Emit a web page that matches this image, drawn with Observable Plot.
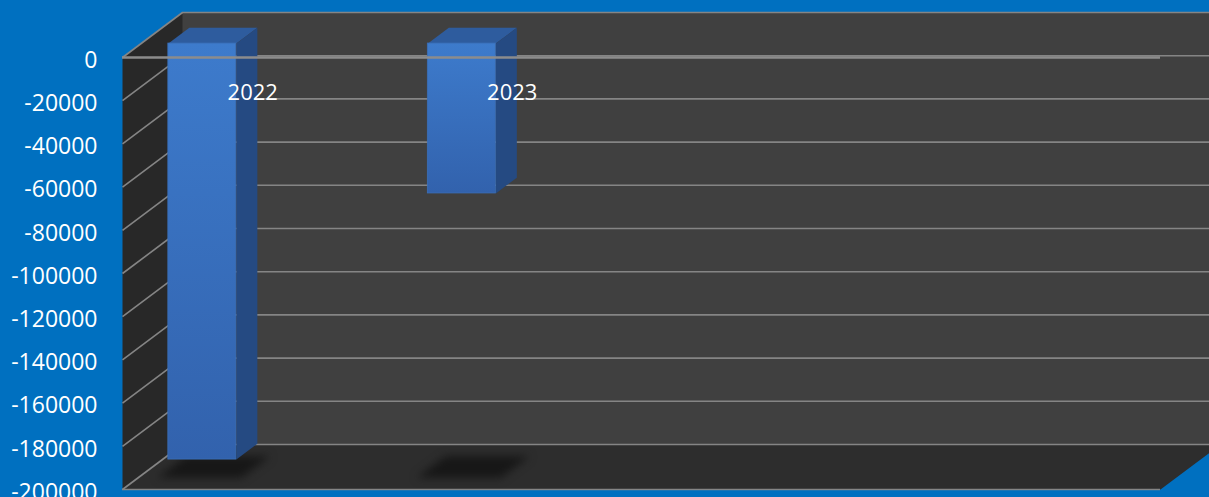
<!DOCTYPE html>
<html><head><meta charset="utf-8">
<script src="https://cdn.jsdelivr.net/npm/d3@7"></script>
<script src="https://cdn.jsdelivr.net/npm/@observablehq/plot@0.6"></script>
<style>
html,body{margin:0;padding:0;background:#0070C0;overflow:hidden}
#chart svg{display:block}
</style></head><body><div id="chart"></div>
<script>
// ---- data ----
const categories = ["2022", "2023"];
const values = [-192600, -69400];
const yTicks = [0, -20000, -40000, -60000, -80000, -100000, -120000, -140000, -160000, -180000, -200000];
const yDomain = [-200000, 0];
const xDomain = [-0.236, 3.764]; // category slots (index units)

// ---- geometry ----
const W = 1209, H = 497, mL = 122, mR = 49, mT = 57, mB = 8;
const pxPerX = (W - mL - mR) / (xDomain[1] - xDomain[0]);
const pxPerY = (H - mT - mB) / (yDomain[1] - yDomain[0]);
const DX = 60 / pxPerX, DY = 45 / pxPerY;   // 3D depth vector in data units
const f1 = 0.31, f2 = 0.66;                 // bar front/back depth fractions
const halfW = 34 / pxPerX;
const shHalf = 42 / pxPerX, sA = 0.26, sB = 0.74;
const X0 = xDomain[0], X1 = xDomain[1], Y0 = yDomain[0];

const bars = categories.map((c, i) => ({cat: c, i, v: values[i]}));
const poly = (id, pts) => pts.map(([x, y]) => ({id, x, y}));

const sideWall = poly("side", [[X0, 0], [X0 + DX, DY], [X0 + DX, Y0 + DY], [X0, Y0]]);
const floor = poly("floor", [[X0, Y0], [X0 + DX, Y0 + DY], [X1 + DX, Y0 + DY], [X1, Y0]]);

const sideFaces = bars.flatMap(d => poly("s" + d.i, [
  [d.i + halfW + f1 * DX, f1 * DY], [d.i + halfW + f2 * DX, f2 * DY],
  [d.i + halfW + f2 * DX, d.v + f2 * DY], [d.i + halfW + f1 * DX, d.v + f1 * DY]]));
const topFaces = bars.flatMap(d => poly("t" + d.i, [
  [d.i - halfW + f1 * DX, f1 * DY], [d.i + halfW + f1 * DX, f1 * DY],
  [d.i + halfW + f2 * DX, f2 * DY], [d.i - halfW + f2 * DX, f2 * DY]]));
const shadows = bars.flatMap(d => poly("sh" + d.i, [
  [d.i - shHalf + sA * DX, Y0 + sA * DY], [d.i + shHalf + sA * DX, Y0 + sA * DY],
  [d.i + shHalf + sB * DX, Y0 + sB * DY], [d.i - shHalf + sB * DX, Y0 + sB * DY]]));

const grid = "#858585";

const chart = Plot.plot({
  width: W, height: H,
  marginLeft: mL, marginRight: mR, marginTop: mT, marginBottom: mB,
  style: {background: "#0070C0", color: "white", fontFamily: "'Open Sans', sans-serif", fontSize: "23px", overflow: "visible"},
  x: {domain: xDomain, axis: null},
  y: {domain: yDomain},
  marks: [
    // back wall
    Plot.rect([0], {x1: () => X0 + DX, x2: () => X1 + DX, y1: () => Y0 + DY, y2: () => DY, fill: "#404040"}),
    // side wall & floor
    Plot.line(sideWall, {x: "x", y: "y", z: "id", fill: "#282828", stroke: "none", curve: "linear-closed"}),
    Plot.line(floor, {x: "x", y: "y", z: "id", fill: "#2d2d2d", stroke: "none", curve: "linear-closed"}),
    // gridlines on back wall
    Plot.ruleY(yTicks, {y: d => d + DY, x1: () => X0 + DX, x2: () => X1 + DX, stroke: grid, strokeWidth: 1.6}),
    // gridlines on side wall
    Plot.link(yTicks, {x1: () => X0, y1: d => d, x2: () => X0 + DX, y2: d => d + DY, stroke: grid, strokeWidth: 1.6}),
    // floor front edge
    Plot.ruleY([Y0], {x1: () => X0, x2: () => X1, stroke: grid, strokeWidth: 1.6}),
    // shadows
    Plot.line(shadows, {x: "x", y: "y", z: "id", fill: "#171717", stroke: "none", curve: "linear-closed"}),
    // bars
    Plot.line(topFaces, {x: "x", y: "y", z: "id", fill: "#2e5c9e", stroke: "none", curve: "linear-closed"}),
    Plot.line(sideFaces, {x: "x", y: "y", z: "id", fill: "#254a82", stroke: "none", curve: "linear-closed"}),
    Plot.rect(bars, {
      x1: d => d.i - halfW + f1 * DX, x2: d => d.i + halfW + f1 * DX,
      y1: d => d.v + f1 * DY, y2: () => f1 * DY,
      fill: "url(#barFront)", stroke: "#3a6fb8", strokeWidth: 0.8
    }),
    // front zero line
    Plot.ruleY([0], {x1: () => X0, x2: () => X1, stroke: "#8c8c8c", strokeWidth: 2.6}),
    // data labels
    Plot.text(bars, {x: "i", y: () => 0, text: "cat", dx: 69, dy: 35, fill: "white", fontSize: 22, textAnchor: "middle"}),
    // y axis
    Plot.axisY(yTicks, {tickSize: 0, tickPadding: 25, tickFormat: d => String(d), fill: "white", fontSize: 23, dy: 3, label: null})
  ]
});

const ns = "http://www.w3.org/2000/svg";
const defs = document.createElementNS(ns, "defs");
defs.innerHTML = `
<linearGradient id="barFront" x1="0" y1="0" x2="0" y2="1">
  <stop offset="0" stop-color="#3d7bcc"/>
  <stop offset="1" stop-color="#3262ad"/>
</linearGradient>
<filter id="blurSh" x="-50%" y="-100%" width="200%" height="300%" color-interpolation-filters="sRGB">
  <feGaussianBlur stdDeviation="4"/>
</filter>`;
chart.insertBefore(defs, chart.firstChild);
chart.querySelectorAll('[fill="#171717"]').forEach(g => {
  g.querySelectorAll("path").forEach(p => p.setAttribute("filter", "url(#blurSh)"));
});
document.getElementById("chart").appendChild(chart);
</script>
</body></html>
